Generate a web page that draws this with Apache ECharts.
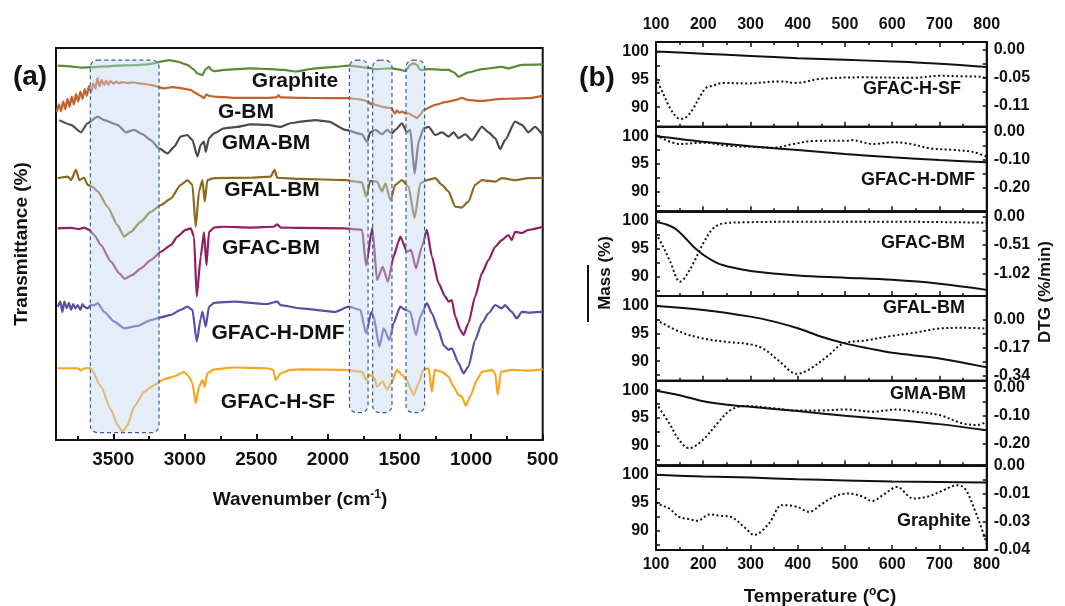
<!DOCTYPE html>
<html>
<head>
<meta charset="utf-8">
<script src="https://cdn.jsdelivr.net/npm/echarts@6/dist/echarts.min.js"></script>
<style>
html,body{margin:0;padding:0;background:#fff;}
#chart{width:1065px;height:606px;}
</style>
</head>
<body>
<div id="chart"></div>
<script>
// ---------- (a) FTIR spectra: [wavenumber (cm-1), stacked transmittance] ----------
const ftirNames = ['Graphite', 'G-BM', 'GMA-BM', 'GFAL-BM', 'GFAC-BM', 'GFAC-H-DMF', 'GFAC-H-SF'];

const ftirGraphite = [[3888,95.5],[3800,95.3],[3720,95.0],[3656,95.1],[3560,95.3],[3470,95.5],[3360,95.6],[3261,95.8],[3200,96.2],[3168,96.5],[3110,96.9],[3052,96.5],[2982,95.7],[2940,94.6],[2912,93.5],[2877,93.1],[2854,94.6],[2831,95.2],[2815,94.4],[2796,94.1],[2727,94.4],[2540,94.8],[2400,94.6],[2308,94.4],[2227,94.0],[2087,94.8],[1950,95.2],[1855,95.5],[1727,95.0],[1669,94.6],[1553,94.8],[1490,94.4],[1460,94.1],[1425,95.7],[1400,96.1],[1380,95.7],[1355,94.4],[1297,94.6],[1158,94.4],[1120,93.8],[1088,92.7],[1019,93.8],[925,94.6],[786,95.2],[740,94.8],[646,95.7],[500,95.8]];

const ftirGBM = [[3895,83.6],[3880,85.6],[3865,83.9],[3850,86.4],[3835,84.4],[3820,87.0],[3805,85.0],[3790,87.6],[3775,85.6],[3760,88.3],[3745,86.3],[3730,88.9],[3715,87.0],[3700,89.5],[3685,87.8],[3670,90.3],[3655,88.6],[3640,91.0],[3625,89.6],[3610,92.3],[3595,90.2],[3580,91.9],[3565,90.5],[3550,91.7],[3535,90.6],[3520,91.6],[3500,90.9],[3480,91.4],[3460,91.0],[3440,91.3],[3400,91.1],[3354,91.2],[3300,90.9],[3238,90.6],[3145,89.7],[3090,90.0],[3052,89.9],[2990,89.5],[2959,89.3],[2930,88.6],[2900,88.0],[2880,87.6],[2866,87.2],[2850,88.2],[2830,87.8],[2796,87.6],[2657,87.3],[2424,87.3],[2360,87.4],[2345,87.9],[2330,87.4],[2192,87.3],[2000,87.2],[1855,87.2],[1780,86.9],[1716,86.3],[1700,85.6],[1690,86.0],[1669,85.5],[1622,85.0],[1553,84.6],[1540,83.6],[1530,83.3],[1520,84.1],[1500,83.5],[1483,83.8],[1460,83.3],[1437,83.3],[1400,82.6],[1378,82.1],[1355,83.0],[1332,84.2],[1251,85.5],[1180,86.2],[1111,86.7],[1065,87.3],[1019,86.7],[925,86.5],[786,87.0],[700,87.1],[600,87.2],[500,87.8]];

const ftirGMABM = [[3877,81.6],[3795,80.4],[3726,78.5],[3679,80.8],[3609,82.5],[3563,81.6],[3470,80.4],[3412,78.5],[3354,79.1],[3296,78.0],[3238,76.5],[3180,74.4],[3121,73.1],[3075,74.8],[3029,77.4],[2982,77.8],[2947,76.5],[2912,72.3],[2889,75.3],[2866,76.1],[2854,73.5],[2831,77.0],[2796,78.2],[2727,79.5],[2633,79.9],[2540,80.5],[2424,80.4],[2331,79.9],[2262,80.8],[2192,81.2],[2087,81.6],[1995,81.2],[1878,79.1],[1762,78.0],[1727,76.1],[1704,78.5],[1669,79.1],[1622,78.0],[1587,79.1],[1553,78.2],[1530,79.1],[1483,80.8],[1448,78.5],[1425,79.1],[1395,68.0],[1367,76.1],[1332,79.5],[1297,79.9],[1251,77.8],[1204,78.5],[1158,77.4],[1123,78.5],[1088,77.0],[1041,78.0],[995,76.5],[925,79.9],[879,78.5],[832,77.0],[797,74.2],[763,76.5],[693,81.2],[646,80.4],[600,78.5],[553,79.9],[500,77.8]];

const ftirGFALBM = [[3888,66.8],[3818,67.2],[3795,66.3],[3761,68.9],[3737,66.3],[3703,66.9],[3679,65.1],[3644,64.6],[3609,63.4],[3540,59.5],[3470,54.8],[3424,51.9],[3377,53.1],[3307,55.7],[3238,58.2],[3168,59.9],[3098,61.6],[3029,65.1],[2982,66.3],[2947,65.1],[2924,54.4],[2901,63.4],[2877,66.3],[2861,60.8],[2843,66.3],[2796,66.8],[2540,66.9],[2401,67.2],[2373,68.9],[2354,66.9],[2192,66.6],[1878,66.3],[1762,65.7],[1734,62.1],[1704,66.1],[1657,65.9],[1622,63.4],[1599,65.5],[1564,61.2],[1530,65.1],[1483,66.3],[1437,64.6],[1395,56.6],[1355,65.5],[1309,66.3],[1251,66.8],[1204,65.1],[1158,63.4],[1111,59.5],[1065,59.3],[1019,60.8],[972,65.1],[925,66.3],[832,65.9],[786,66.8],[693,66.3],[600,66.8],[500,66.9]];

const ftirGFACBM = [[3888,54.0],[3795,54.1],[3737,53.8],[3703,54.2],[3668,53.6],[3633,52.3],[3586,49.7],[3516,45.5],[3458,42.5],[3419,41.1],[3366,42.1],[3307,43.8],[3238,45.9],[3168,48.0],[3098,49.7],[3052,51.9],[2994,53.6],[2959,54.0],[2936,51.9],[2917,36.6],[2889,46.8],[2866,53.0],[2849,44.6],[2831,53.1],[2796,54.2],[2727,54.4],[2540,54.2],[2380,54.4],[2354,55.0],[2330,54.2],[2192,54.1],[1878,54.0],[1762,53.6],[1734,44.6],[1690,54.2],[1657,40.8],[1618,44.2],[1581,40.4],[1542,46.8],[1507,50.6],[1495,51.9],[1448,48.0],[1420,48.5],[1385,43.8],[1344,49.3],[1309,53.6],[1274,46.8],[1228,40.0],[1181,36.6],[1158,35.3],[1135,35.7],[1111,31.5],[1076,28.1],[1053,26.8],[1019,29.8],[972,36.6],[925,42.5],[879,45.9],[832,49.3],[786,51.0],[740,52.3],[716,51.0],[693,53.1],[646,52.8],[600,53.6],[500,54.4]];

const ftirGFACHDMF = [[3888,34.0],[3870,35.3],[3855,32.7],[3842,35.3],[3825,33.6],[3810,35.0],[3795,33.2],[3780,34.7],[3765,33.6],[3749,34.4],[3730,33.2],[3715,34.7],[3703,34.0],[3680,33.6],[3656,34.4],[3633,34.4],[3609,34.9],[3563,32.7],[3493,30.2],[3424,28.5],[3331,29.1],[3238,30.6],[3168,31.3],[3098,31.9],[3029,33.2],[2982,34.0],[2947,33.2],[2917,25.1],[2889,31.0],[2877,32.7],[2854,28.9],[2831,34.0],[2796,35.0],[2657,35.3],[2424,34.7],[2354,35.3],[2331,34.4],[2192,33.6],[1948,32.7],[1855,34.0],[1774,33.2],[1734,27.2],[1697,32.7],[1681,31.5],[1641,23.8],[1611,28.5],[1571,25.5],[1542,29.8],[1495,34.0],[1460,33.2],[1425,32.7],[1385,26.8],[1355,31.5],[1309,34.9],[1274,32.3],[1228,28.1],[1193,24.2],[1158,23.0],[1135,23.4],[1088,19.6],[1053,17.0],[1019,18.7],[972,25.5],[925,29.8],[879,32.3],[832,34.4],[786,33.6],[763,34.4],[716,32.7],[681,31.0],[646,32.7],[600,32.5],[500,32.7]];

const ftirGFACHSF = [[3888,18.3],[3749,18.3],[3726,17.7],[3703,18.3],[3656,18.3],[3586,13.6],[3516,7.7],[3470,3.8],[3435,2.1],[3400,3.8],[3354,8.5],[3284,12.3],[3215,14.0],[3145,15.5],[3075,16.2],[3006,17.4],[2971,16.2],[2947,14.5],[2924,9.4],[2901,13.6],[2877,15.3],[2861,13.6],[2843,17.0],[2796,18.0],[2657,18.5],[2424,18.3],[2382,17.9],[2366,15.3],[2331,17.0],[2262,17.9],[2192,18.0],[1878,17.9],[1762,17.4],[1734,15.3],[1711,16.6],[1681,16.2],[1657,13.6],[1618,14.9],[1587,12.8],[1553,14.9],[1518,17.9],[1483,16.6],[1448,15.3],[1425,13.2],[1402,11.5],[1367,14.5],[1332,18.0],[1297,18.3],[1274,12.3],[1255,17.9],[1204,17.4],[1158,16.2],[1123,13.6],[1088,11.5],[1065,11.1],[1037,8.7],[1007,11.1],[960,15.3],[925,17.4],[855,17.9],[832,17.0],[814,11.5],[791,17.4],[716,17.9],[600,17.7],[500,18.0]];

const ftirSeriesData = [ftirGraphite, ftirGBM, ftirGMABM, ftirGFALBM, ftirGFACBM, ftirGFACHDMF, ftirGFACHSF];

// Highlighted absorption bands: [upper wavenumber, lower wavenumber, lower edge, upper edge]
const bandRanges = [[3660, 3180, 1.9, 96.9], [1850, 1720, 7.0, 96.9], [1688, 1553, 7.0, 96.9], [1455, 1325, 7.0, 96.9]];

// ---------- (b) TGA mass loss and DTG: [temperature (oC), value] ----------
const tgaNames = ['GFAC-H-SF', 'GFAC-H-DMF', 'GFAC-BM', 'GFAL-BM', 'GMA-BM', 'Graphite'];

const massGFACHSF = [[100,100],[200,99.6],[300,99.2],[400,98.8],[500,98.5],[600,98.2],[700,97.8],[800,97.2]];
const dtgGFACHSF = [[100,-0.055],[115,-0.086],[130,-0.115],[144,-0.133],[154,-0.136],[165,-0.132],[179,-0.115],[193,-0.092],[207,-0.074],[218,-0.071],[243,-0.065],[292,-0.066],[362,-0.062],[398,-0.065],[447,-0.057],[539,-0.054],[645,-0.055],[701,-0.051],[751,-0.052],[790,-0.053],[800,-0.059]];

const massGFACHDMF = [[100,100],[150,99.5],[200,99.0],[300,98.2],[400,97.5],[500,96.8],[600,96.2],[700,95.7],[800,95.3]];
const dtgGFACHDMF = [[100,-0.012],[151,-0.044],[200,-0.039],[250,-0.050],[299,-0.054],[348,-0.057],[391,-0.044],[433,-0.033],[504,-0.032],[514,-0.030],[560,-0.044],[602,-0.038],[631,-0.041],[680,-0.059],[729,-0.065],[770,-0.072],[800,-0.089]];

const massGFACBM = [[100,99.8],[120,99.4],[140,98.65],[160,97.1],[180,95.3],[200,93.9],[230,92.4],[260,91.65],[300,91.0],[400,90.2],[500,89.8],[600,89.4],[700,88.7],[800,87.6]];
const dtgGFACBM = [[100,-0.30],[115,-0.54],[130,-0.81],[151,-1.17],[160,-1.11],[179,-0.84],[200,-0.48],[221,-0.21],[243,-0.12],[292,-0.10],[400,-0.09],[600,-0.09],[800,-0.108]];

const massGFALBM = [[100,99.9],[200,99.2],[300,98.0],[350,97.1],[400,95.9],[450,94.4],[500,93.2],[550,92.3],[600,91.5],[700,90.5],[800,88.9]];
const dtgGFALBM = [[100,0.0],[151,-0.075],[200,-0.115],[250,-0.136],[299,-0.150],[327,-0.177],[359,-0.248],[398,-0.330],[426,-0.300],[465,-0.218],[496,-0.146],[546,-0.126],[595,-0.101],[645,-0.081],[701,-0.054],[751,-0.050],[800,-0.054]];

const massGMABM = [[100,99.9],[150,99.1],[200,98.0],[250,97.4],[300,97.0],[400,96.25],[500,95.4],[600,94.7],[700,93.9],[800,92.8]];
const dtgGMABM = [[100,-0.056],[128,-0.127],[149,-0.186],[170,-0.215],[199,-0.186],[230,-0.127],[258,-0.080],[290,-0.066],[350,-0.074],[400,-0.082],[450,-0.082],[500,-0.078],[560,-0.086],[609,-0.078],[648,-0.086],[700,-0.098],[748,-0.127],[780,-0.133],[800,-0.121]];

const massGraphite = [[100,100],[200,99.7],[300,99.5],[400,99.2],[500,99.0],[600,98.8],[700,98.7],[800,98.6]];
const dtgGraphite = [[100,-0.0173],[111,-0.0188],[128,-0.0204],[149,-0.0243],[170,-0.0254],[188,-0.0262],[213,-0.0232],[237,-0.0238],[258,-0.0243],[290,-0.0298],[308,-0.0329],[339,-0.0275],[367,-0.0188],[399,-0.0196],[424,-0.0220],[448,-0.0188],[476,-0.0149],[505,-0.0133],[536,-0.0146],[557,-0.0168],[585,-0.0133],[610,-0.0102],[645,-0.0157],[677,-0.0146],[705,-0.0121],[737,-0.0094],[754,-0.0110],[775,-0.0212],[793,-0.0322],[800,-0.0369]];

const massSeries = [massGFACHSF, massGFACHDMF, massGFACBM, massGFALBM, massGMABM, massGraphite];
const dtgSeries = [dtgGFACHSF, dtgGFACHDMF, dtgGFACBM, dtgGFALBM, dtgGMABM, dtgGraphite];

// Axis tick values and labels
const ftirTickStep = 500;
const tempTickStep = 100;
const massTickValues = [90, 95, 100];
const dtgTickValues = [[0, -0.055, -0.11], [0, -0.1, -0.2], [0, -0.51, -1.02], [0, -0.17, -0.34], [0, -0.1, -0.2], [0, -0.04 / 3, -0.08 / 3, -0.04]];
const dtgTickLabels = [['0.00', '-0.05', '-0.11'], ['0.00', '-0.10', '-0.20'], ['0.00', '-0.51', '-1.02'], ['0.00', '-0.17', '-0.34'], ['0.00', '-0.10', '-0.20'], ['0.00', '-0.01', '-0.03', '-0.04']];

// ---------- chart ----------
const FONT = '"Liberation Sans", Arial, Helvetica, sans-serif';
const INK = '#111';
const ftirColors = ['#5a8a3a', '#c2622e', '#4b4b4b', '#8c6a22', '#8e1f63', '#5b4ea6', '#f6a621'];
const dtgLimits = [[-0.1514, 0.0158], [-0.2844, 0.018], [-1.429, 0.097], [-0.372, 0.144], [-0.2754, 0.0234], [-0.04, 0]];

const tgaTop = 42, tgaH = 84.67, tgaLeft = 656, tgaW = 330.7;

const grids = [{ left: 56, top: 48, width: 486.7, height: 392, show: true, borderColor: INK, borderWidth: 2 }];
for (let i = 0; i < 6; i++) {
  grids.push({ left: tgaLeft, top: tgaTop + i * tgaH, width: tgaW, height: tgaH, show: true, borderColor: INK, borderWidth: 2 });
}

const tickLabel = (size) => ({ fontFamily: FONT, fontWeight: 'bold', fontSize: size, color: INK });
const plain = (v) => String(Math.round(v));

const xAxes = [{
  gridIndex: 0, type: 'value', inverse: true, min: 500, max: 3900, interval: ftirTickStep,
  axisLine: { show: true, onZero: false, lineStyle: { color: INK, width: 2 } },
  axisTick: { show: true, inside: true, length: 6, lineStyle: { color: INK, width: 2 } },
  minorTick: { show: true, splitNumber: 2, length: 4, lineStyle: { color: INK, width: 2 } },
  axisLabel: Object.assign({ margin: 10, formatter: plain, showMaxLabel: false }, tickLabel(19)),
  splitLine: { show: false }
}];
for (let i = 0; i < 6; i++) {
  xAxes.push({
    gridIndex: i + 1, type: 'value', min: 100, max: 800, interval: tempTickStep, position: 'bottom',
    axisLine: { show: true, onZero: false, lineStyle: { color: INK, width: 2 } },
    axisTick: { show: true, inside: true, length: 5, lineStyle: { color: INK, width: 1.5 } },
    minorTick: { show: true, splitNumber: 2, length: 3, lineStyle: { color: INK, width: 1.5 } },
    axisLabel: Object.assign({ show: i === 5, margin: 7, formatter: plain }, tickLabel(16)),
    splitLine: { show: false }
  });
}
// temperature labels along the top of the stack
xAxes.push({
  gridIndex: 1, type: 'value', min: 100, max: 800, interval: tempTickStep, position: 'top',
  axisLine: { show: true, onZero: false, lineStyle: { color: INK, width: 2 } },
  axisTick: { show: true, inside: true, length: 5, lineStyle: { color: INK, width: 1.5 } },
  minorTick: { show: true, splitNumber: 2, length: 3, lineStyle: { color: INK, width: 1.5 } },
  axisLabel: Object.assign({ margin: 9, formatter: plain }, tickLabel(16)),
  splitLine: { show: false }
});

const yAxes = [{
  gridIndex: 0, type: 'value', min: 0, max: 100,
  axisLine: { show: true, onZero: false, lineStyle: { color: INK, width: 2 } },
  axisTick: { show: false }, axisLabel: { show: false }, splitLine: { show: false }
}];

function midTicks(vals) {
  const out = vals.slice();
  for (let k = 0; k < vals.length - 1; k++) out.push((vals[k] + vals[k + 1]) / 2);
  return out;
}

for (let i = 0; i < 6; i++) {
  yAxes.push({
    gridIndex: i + 1, type: 'value', min: 86.5, max: 101.7, position: 'left',
    axisLine: { show: true, onZero: false, lineStyle: { color: INK, width: 2 } },
    axisTick: { show: true, inside: true, length: 4, customValues: [87.5, 90, 92.5, 95, 97.5, 100], lineStyle: { color: INK, width: 1.5 } },
    axisLabel: Object.assign({ customValues: massTickValues, margin: 7, formatter: plain }, tickLabel(16)),
    splitLine: { show: false }
  });
  const vals = dtgTickValues[i], labs = dtgTickLabels[i];
  yAxes.push({
    gridIndex: i + 1, type: 'value', min: dtgLimits[i][0], max: dtgLimits[i][1], position: 'right',
    axisLine: { show: true, onZero: false, lineStyle: { color: INK, width: 2 } },
    axisTick: { show: true, inside: true, length: 4, customValues: midTicks(vals), lineStyle: { color: INK, width: 1.5 } },
    axisLabel: Object.assign({
      customValues: vals, margin: 7,
      formatter: (v) => {
        let best = 0;
        for (let k = 1; k < vals.length; k++) if (Math.abs(vals[k] - v) < Math.abs(vals[best] - v)) best = k;
        return labs[best];
      }
    }, tickLabel(16)),
    splitLine: { show: false }
  });
}

const series = [];
ftirSeriesData.forEach((d, k) => {
  series.push({
    name: ftirNames[k], type: 'line', xAxisIndex: 0, yAxisIndex: 0, data: d,
    showSymbol: false, symbol: 'none', smooth: 0.2, smoothMonotone: 'x',
    lineStyle: { color: ftirColors[k], width: 2.2 }, z: 3
  });
});

series.push({
  type: 'custom', xAxisIndex: 0, yAxisIndex: 0, data: bandRanges, z: 10,
  encode: { x: [0, 1], y: [2, 3] },
  renderItem: (params, api) => {
    const a = api.coord([api.value(0), api.value(3)]);
    const b = api.coord([api.value(1), api.value(2)]);
    return {
      type: 'rect',
      shape: { x: Math.min(a[0], b[0]), y: Math.min(a[1], b[1]), width: Math.abs(b[0] - a[0]), height: Math.abs(b[1] - a[1]), r: 7 },
      style: { fill: 'rgba(196,215,240,0.45)', stroke: '#3b5d9c', lineWidth: 1.2, lineDash: [4, 3] }
    };
  }
});

for (let i = 0; i < 6; i++) {
  series.push({
    name: tgaNames[i] + ' mass', type: 'line', xAxisIndex: i + 1, yAxisIndex: 1 + 2 * i, data: massSeries[i],
    showSymbol: false, symbol: 'none', smooth: 0.35, lineStyle: { color: INK, width: 2 }
  });
  series.push({
    name: tgaNames[i] + ' DTG', type: 'line', xAxisIndex: i + 1, yAxisIndex: 2 + 2 * i, data: dtgSeries[i],
    showSymbol: false, symbol: 'none', smooth: 0.35, lineStyle: { color: INK, width: 2, type: [2, 2.5] }
  });
}

function txt(text, x, y, size, extra) {
  return Object.assign({
    type: 'text', x: x, y: y, z: 20,
    style: { text: text, fontFamily: FONT, fontWeight: 'bold', fontSize: size, fill: INK, align: 'center', verticalAlign: 'middle' }
  }, extra || {});
}

const supRich = (size) => ({ sup: { fontFamily: FONT, fontWeight: 'bold', fontSize: size, fill: INK, verticalAlign: 'top', lineHeight: 22 } });

const graphics = [
  txt('(a)', 30, 77, 28),
  txt('(b)', 597, 78, 28),
  txt('Graphite', 295, 81, 21),
  txt('G-BM', 246, 112, 21),
  txt('GMA-BM', 266, 143, 21),
  txt('GFAL-BM', 272, 190, 21),
  txt('GFAC-BM', 271, 248, 21),
  txt('GFAC-H-DMF', 278, 333, 21),
  txt('GFAC-H-SF', 278, 402, 21),
  txt('Transmittance (%)', 22, 244, 19, { rotation: Math.PI / 2 }),
  {
    type: 'text', x: 300, y: 500, z: 20,
    style: { text: 'Wavenumber (cm{sup|-1})', fontFamily: FONT, fontWeight: 'bold', fontSize: 19, fill: INK, align: 'center', verticalAlign: 'middle', lineHeight: 22, rich: supRich(12) }
  },
  txt('GFAC-H-SF', 912, 89, 18),
  txt('GFAC-H-DMF', 918, 180, 18),
  txt('GFAC-BM', 923, 243, 18),
  txt('GFAL-BM', 924, 308, 18),
  txt('GMA-BM', 928, 394, 18),
  txt('Graphite', 934, 521, 18),
  txt('Mass (%)', 605, 273, 17, { rotation: Math.PI / 2 }),
  { type: 'line', z: 20, shape: { x1: 588, y1: 265, x2: 588, y2: 322 }, style: { stroke: INK, lineWidth: 2 } },
  txt('DTG (%/min)', 1045, 292, 17, { rotation: Math.PI / 2 }),
  {
    type: 'text', x: 820, y: 597, z: 20,
    style: { text: 'Temperature ({sup|o}C)', fontFamily: FONT, fontWeight: 'bold', fontSize: 19, fill: INK, align: 'center', verticalAlign: 'middle', lineHeight: 22, rich: supRich(12) }
  }
];

const chart = echarts.init(document.getElementById('chart'));
chart.setOption({
  animation: false,
  backgroundColor: '#fff',
  grid: grids,
  xAxis: xAxes,
  yAxis: yAxes,
  series: series,
  graphic: graphics
});
</script>
</body>
</html>
